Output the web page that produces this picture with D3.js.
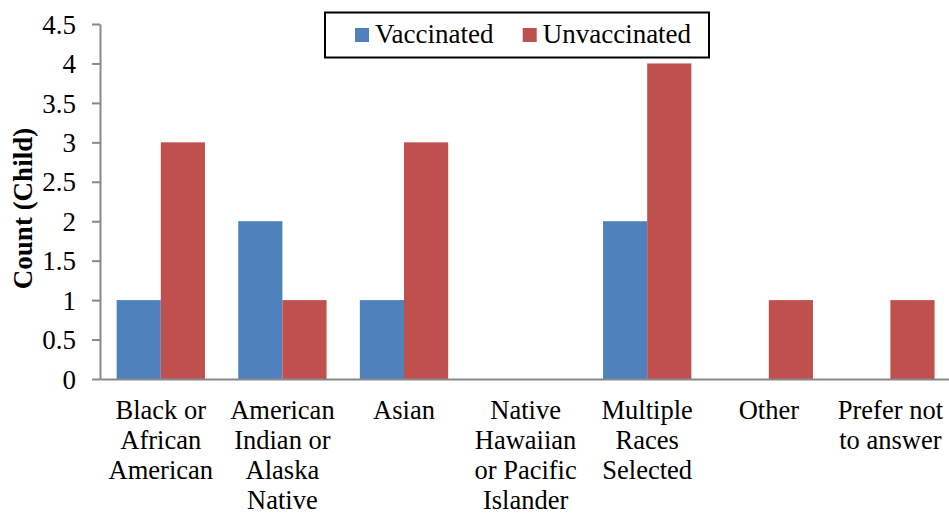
<!DOCTYPE html>
<html>
<head>
<meta charset="utf-8">
<script src="https://cdn.jsdelivr.net/npm/d3@7/dist/d3.min.js"></script>
<style>
  html, body { margin: 0; padding: 0; background: #fff; }
  svg { display: block; }
</style>
</head>
<body>
<svg id="chart" width="949" height="514"></svg>
<script>
// Race categories (line breaks mark label wrapping)
const categories = [
  "Black or\nAfrican\nAmerican",
  "American\nIndian or\nAlaska\nNative",
  "Asian",
  "Native\nHawaiian\nor Pacific\nIslander",
  "Multiple\nRaces\nSelected",
  "Other",
  "Prefer not\nto answer"
];
const seriesNames = ["Vaccinated", "Unvaccinated"];
const vaccinated   = [1, 2, 1, 0, 2, 0, 0];
const unvaccinated = [3, 1, 3, 0, 4, 1, 1];
const yTicks = [0, 0.5, 1, 1.5, 2, 2.5, 3, 3.5, 4, 4.5];
const yTitle = "Count (Child)";

const colors = { Vaccinated: "#4F81BD", Unvaccinated: "#C0504D" };
const axisColor = "#898989";
const serif = "'Liberation Serif', 'Times New Roman', serif";

const svg = d3.select("#chart");
const plotLeft = 100, plotRight = 951.2, plotTop = 24, plotBottom = 379;

const x = d3.scaleBand().domain(categories).range([plotLeft, plotRight]).padding(0);
const xInner = d3.scaleBand().domain(seriesNames).range([0, x.bandwidth()])
  .paddingInner(0).paddingOuter(0.377);
const y = d3.scaleLinear().domain([0, 4.5]).range([plotBottom, plotTop]);

const rows = categories.map((c, i) => ({
  cat: c,
  values: [
    { key: "Vaccinated", value: vaccinated[i] },
    { key: "Unvaccinated", value: unvaccinated[i] }
  ]
}));

// Bars
const groups = svg.append("g").selectAll("g")
  .data(rows).join("g")
  .attr("transform", d => `translate(${x(d.cat)},0)`);
groups.selectAll("rect")
  .data(d => d.values).join("rect")
  .attr("x", d => xInner(d.key))
  .attr("width", xInner.bandwidth())
  .attr("y", d => y(d.value))
  .attr("height", d => y(0) - y(d.value))
  .attr("fill", d => colors[d.key]);

// Y axis
const yAxis = svg.append("g")
  .attr("transform", `translate(${plotLeft},0)`)
  .call(d3.axisLeft(y).tickValues(yTicks).tickSize(8).tickSizeOuter(0).tickPadding(16)
    .tickFormat(d3.format("~g")));
yAxis.attr("font-family", serif).attr("font-size", 27);
yAxis.selectAll("path, line").attr("stroke", axisColor).attr("stroke-width", 2);
yAxis.selectAll("text")
  .attr("fill", "#000")
  .attr("dy", "0.34em");

// X axis line
const xAxis = svg.append("g")
  .attr("transform", `translate(0,${plotBottom})`)
  .call(d3.axisBottom(x).tickSize(0).tickSizeOuter(0).tickFormat(""));
xAxis.select("path").attr("stroke", axisColor).attr("stroke-width", 2);

// Category labels
const lineH = 30;
svg.append("g").selectAll("text")
  .data(categories).join("text")
  .attr("x", d => x(d) + x.bandwidth() / 2)
  .attr("y", 419)
  .attr("text-anchor", "middle")
  .attr("font-family", serif)
  .attr("font-size", 26.5)
  .each(function (d) {
    const t = d3.select(this);
    d.split("\n").forEach((line, i) => {
      t.append("tspan")
        .attr("x", x(d) + x.bandwidth() / 2)
        .attr("dy", i === 0 ? 0 : lineH)
        .text(line);
    });
  });

// Y title
svg.append("text")
  .attr("transform", `translate(32,${(plotTop + plotBottom) / 2 + 7}) rotate(-90)`)
  .attr("text-anchor", "middle")
  .attr("font-family", serif)
  .attr("font-size", 27)
  .attr("font-weight", "bold")
  .text(yTitle);

// Legend
const legend = svg.append("g");
legend.append("rect")
  .attr("x", 325).attr("y", 12.5).attr("width", 384).attr("height", 45)
  .attr("fill", "#fff").attr("stroke", "#000").attr("stroke-width", 2);
const legendPos = [355, 522.7];
seriesNames.forEach((s, i) => {
  legend.append("rect")
    .attr("x", legendPos[i]).attr("y", 28).attr("width", 14).attr("height", 14)
    .attr("fill", colors[s]);
  legend.append("text")
    .attr("x", legendPos[i] + 20).attr("y", 43)
    .attr("font-family", serif)
    .attr("font-size", 27)
    .text(s);
});
</script>
</body>
</html>
